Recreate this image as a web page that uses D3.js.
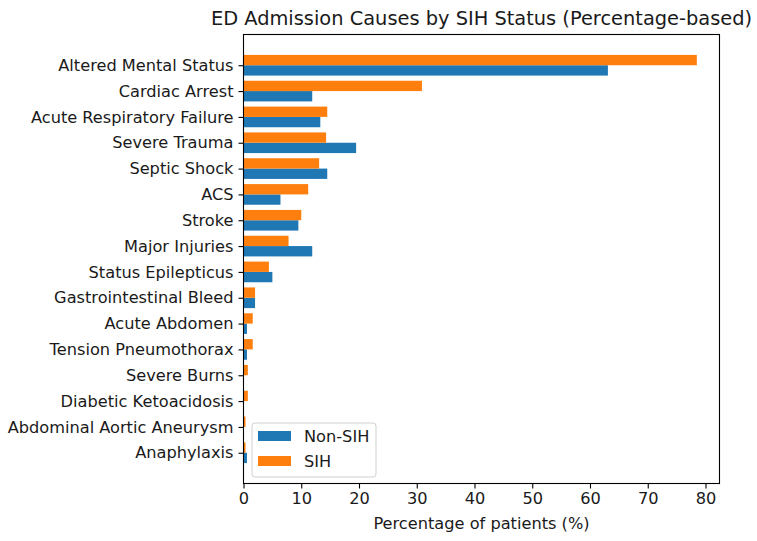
<!DOCTYPE html>
<html>
<head>
<meta charset="utf-8">
<script src="https://cdn.jsdelivr.net/npm/d3@7"></script>
<style>
  html, body { margin: 0; padding: 0; background: #fff; }
  text { font-family: "DejaVu Sans", sans-serif; fill: #1a1a1a; }
</style>
</head>
<body>
<svg id="chart" width="757" height="541"></svg>
<script>
const categories = [
  "Altered Mental Status", "Cardiac Arrest", "Acute Respiratory Failure", "Severe Trauma",
  "Septic Shock", "ACS", "Stroke", "Major Injuries", "Status Epilepticus",
  "Gastrointestinal Bleed", "Acute Abdomen", "Tension Pneumothorax", "Severe Burns",
  "Diabetic Ketoacidosis", "Abdominal Aortic Aneurysm", "Anaphylaxis"
];
const nonSIH = [63.1, 11.9, 13.3, 19.5, 14.5, 6.4, 9.5, 11.9, 5.0, 2.0, 0.6, 0.6, 0.0, 0.0, 0.0, 0.6];
const SIH    = [78.5, 30.9, 14.5, 14.3, 13.1, 11.2, 10.0, 7.8, 4.4, 2.0, 1.6, 1.6, 0.75, 0.75, 0.35, 0.35];
const xTicks = [0, 10, 20, 30, 40, 50, 60, 70, 80];
const seriesNames = ["Non-SIH", "SIH"];
const seriesColors = ["#1f77b4", "#ff7f0e"];
const titleText = "ED Admission Causes by SIH Status (Percentage-based)";
const xLabel = "Percentage of patients (%)";

const svg = d3.select("#chart");
const L = 243.5, R = 719.5, T = 34.5, B = 483.5;
const FS = 16.2;
const barH = 0.4;
const maxV = d3.max(SIH.concat(nonSIH));
const x = d3.scaleLinear().domain([0, maxV * 1.05]).range([L, R]);
const n = categories.length;
const pad = (n - 1 + 2 * barH) * 0.05;
const y = d3.scaleLinear().domain([-barH - pad, n - 1 + barH + pad]).range([T, B]);

// bars
const g = svg.append("g");
g.selectAll("rect.non").data(nonSIH).enter().append("rect")
  .attr("class", "non")
  .attr("x", x(0))
  .attr("y", (d, i) => y(i))
  .attr("width", d => x(d) - x(0))
  .attr("height", y(barH) - y(0))
  .attr("fill", seriesColors[0]);
g.selectAll("rect.sih").data(SIH).enter().append("rect")
  .attr("class", "sih")
  .attr("x", x(0))
  .attr("y", (d, i) => y(i - barH))
  .attr("width", d => x(d) - x(0))
  .attr("height", y(barH) - y(0))
  .attr("fill", seriesColors[1]);

// x axis
const xAxis = d3.axisBottom(x).tickValues(xTicks).tickSize(5).tickPadding(4);
const gx = svg.append("g").attr("transform", `translate(0,${B})`).call(xAxis);
gx.select(".domain").remove();
gx.selectAll(".tick line").attr("stroke", "#000").attr("stroke-width", 1.1);
gx.selectAll(".tick text").attr("font-size", FS).attr("fill", "#1a1a1a")
  .style("font-family", "DejaVu Sans, sans-serif");

// y axis
const yAxis = d3.axisLeft(y).tickValues(d3.range(n)).tickFormat(i => categories[i]).tickSize(5).tickPadding(5);
const gy = svg.append("g").attr("transform", `translate(${L},0)`).call(yAxis);
gy.select(".domain").remove();
gy.selectAll(".tick line").attr("stroke", "#000").attr("stroke-width", 1.1);
gy.selectAll(".tick text").attr("font-size", FS).attr("fill", "#1a1a1a")
  .style("font-family", "DejaVu Sans, sans-serif");

// spines
svg.append("rect").attr("x", L).attr("y", T).attr("width", R - L).attr("height", B - T)
  .attr("fill", "none").attr("stroke", "#000").attr("stroke-width", 1.1);

// title
svg.append("text").attr("x", (L + R) / 2).attr("y", 24.5).attr("text-anchor", "middle")
  .attr("font-size", 19.4).text(titleText);

// x label
svg.append("text").attr("x", (L + R) / 2).attr("y", 529).attr("text-anchor", "middle")
  .attr("font-size", FS).text(xLabel);

// legend
const lg = svg.append("g");
lg.append("rect").attr("x", 252).attr("y", 423).attr("width", 124).attr("height", 54)
  .attr("rx", 3).attr("fill", "#fff").attr("fill-opacity", 0.8)
  .attr("stroke", "#d0d0d0").attr("stroke-width", 1);
seriesNames.forEach((s, i) => {
  lg.append("rect").attr("x", 258).attr("y", 431 + i * 25).attr("width", 33).attr("height", 10)
    .attr("fill", seriesColors[i]);
  lg.append("text").attr("x", 304).attr("y", 441.5 + i * 25).attr("font-size", FS).text(s);
});
</script>
</body>
</html>
